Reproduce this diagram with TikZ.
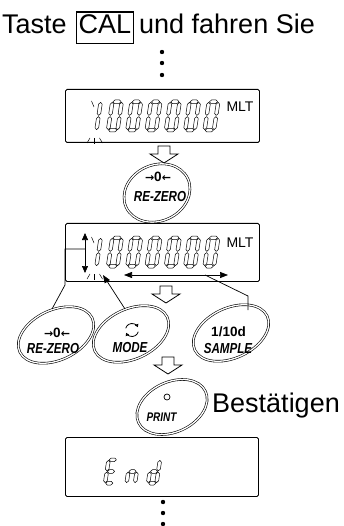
\documentclass[tikz,border=0pt]{standalone}
\usepackage{fontspec}
\setmainfont{Liberation Sans}
\newfontfamily\btnfont[FakeStretch=0.8]{Liberation Sans}
\newfontfamily\arrfont{DejaVu Sans}
\usetikzlibrary{arrows.meta,shapes.geometric}

\tikzset{
  lcd/.style={draw, line width=0.9pt, rounded corners=1.5pt},
  seg/.style={draw, line width=0.5pt, fill=white, line join=round},
  btn/.style={ellipse, draw, line width=0.6pt, double, double distance=1.3pt, inner sep=0pt, rotate=25},
  hollow/.style={draw, line width=0.8pt, fill=white, line join=miter},
  leader/.style={draw, line width=0.7pt},
  tipA/.style={-{Triangle[length=8pt,width=6pt]}},
  tipB/.style={{Triangle[length=8pt,width=6pt]}-{Triangle[length=8pt,width=6pt]}},
  big/.style={inner sep=0pt, font=\fontsize{27}{30}\selectfont},
  blab/.style={inner sep=0pt, anchor=base, font=\btnfont\bfseries\itshape\fontsize{14.5}{15}\selectfont},
  bnum/.style={inner sep=0pt, anchor=base, font=\bfseries\fontsize{13.5}{15}\selectfont},
  dots/.style={fill=black},
}

% seven-segment helpers (local coords, y up, in pt); \sh = half segment thickness
\def\dw{13}\def\dh{32}\def\sh{1.8}
\newcommand\segH[3]{\draw[seg] (#1,#3) -- ++(\sh,\sh) -- ({#2-\sh},{#3+\sh}) -- (#2,#3) -- ({#2-\sh},{#3-\sh}) -- ({#1+\sh},{#3-\sh}) -- cycle;}
\newcommand\segV[3]{\draw[seg] (#1,#2) -- ++(\sh,\sh) -- ({#1+\sh},{#3-\sh}) -- (#1,#3) -- ({#1-\sh},{#3-\sh}) -- ({#1-\sh},{#2+\sh}) -- cycle;}
\newcommand\segA{\segH{\sh+0.6}{\dw-\sh-0.6}{\dh-\sh}}
\newcommand\segG{\segH{\sh+0.6}{\dw-\sh-0.6}{\dh/2}}
\newcommand\segD{\segH{\sh+0.6}{\dw-\sh-0.6}{\sh}}
\newcommand\segF{\segV{\sh}{\dh/2+0.6}{\dh-\sh-0.6}}
\newcommand\segE{\segV{\sh}{\sh+0.6}{\dh/2-0.6}}
\newcommand\segB{\segV{\dw-\sh}{\dh/2+0.6}{\dh-\sh-0.6}}
\newcommand\segC{\segV{\dw-\sh}{\sh+0.6}{\dh/2-0.6}}
\newcommand\lcdchar[3]{\begin{scope}[shift={(#1,#2)},x=1pt,y=1pt,xslant=0.15] #3 \end{scope}}
\newcommand\lcdzero{\segA\segB\segC\segD\segE\segF}
\newcommand\lcdone{\segB\segC}
\newcommand\lcdrow[1]{%
  \lcdchar{85}{#1}{\lcdone}%
  \foreach \k in {0,...,5}{\lcdchar{106+19.3*\k}{#1}{\lcdzero}}%
  \draw[line width=0.5pt] (91.5,#1-31) -- (94,#1-25);
  \draw[line width=0.5pt] (87,#1+11) -- (90,#1+6);
  \draw[line width=0.5pt] (94,#1+6) -- (94,#1+12);
  \draw[line width=0.5pt] (99.5,#1+6) -- (102.5,#1+11);
}
\newcommand\hollowarrow[1]{\draw[hollow] ([xshift=-6pt]#1) -- ([xshift=6pt]#1) -- ([xshift=6pt,yshift=-8pt]#1) -- ([xshift=14pt,yshift=-8pt]#1) -- ([yshift=-17pt]#1) -- ([xshift=-14pt,yshift=-8pt]#1) -- ([xshift=-6pt,yshift=-8pt]#1) -- cycle;}
\newcommand\zarr{{\arrfont\bfseries\fontsize{11}{11}\selectfont →}0{\arrfont\bfseries\fontsize{11}{11}\selectfont ←}}

\begin{document}
\begin{tikzpicture}[x=1pt,y=-1pt]
\useasboundingbox (0,0) rectangle (344,526);

% title
\node[big, anchor=base west] (t1) at (2,34) {Taste};
\node[big, anchor=base west, draw, line width=1.1pt, inner xsep=2pt, text height=22pt, text depth=9.5pt] (cal) at (76,34) {CAL};
\node[big, anchor=base west] (t2) at (139,34) {und fahren Sie};

% dots top
\foreach \yy in {52,63,75} {\fill[dots] (162,\yy) circle[radius=2.2pt];}

% display 1
\node[lcd, minimum width=194pt, minimum height=53pt, anchor=north west] (d1) at (65,89) {};
\lcdrow{132}
\node[inner sep=0pt, font=\fontsize{14}{14}\selectfont] (mlt1) at (240,107) {MLT};

% arrow 1
\coordinate (a1) at (164,146);
\hollowarrow{a1}

% RE-ZERO top
\node[btn, minimum width=68pt, minimum height=56pt] (bz0) at (157,193) {};
\node[bnum] (bz0a) at (158,182) {\zarr};
\node[blab] (bz0b) at (160,202) {RE-ZERO};

% display 2
\node[lcd, minimum width=194pt, minimum height=58pt, anchor=north west] (d2) at (65,223) {};
\lcdrow{268}
\node[inner sep=0pt, font=\fontsize{14}{14}\selectfont] (mlt2) at (240,243) {MLT};

\coordinate (ud1) at (85,233);
\coordinate (ud2) at (85,273);
\draw[leader, {Triangle[length=7pt,width=6pt]}-{Triangle[length=7pt,width=6pt]}] (ud1) -- (ud2);
\coordinate (ha1) at (124,275);
\coordinate (ha2) at (228,275);
\draw[leader, tipB] (ha1) -- (ha2);

% arrow 2
\coordinate (a2) at (166,286);
\hollowarrow{a2}

% lower buttons
\node[btn, minimum width=80pt, minimum height=50pt] (bz1) at (56,335) {};
\node[bnum] (bz1a) at (57,337) {\zarr};
\node[blab] (bz1b) at (53,353) {RE-ZERO};

\node[btn, minimum width=80pt, minimum height=50pt] (bm) at (131,334) {};
\coordinate (mc) at (132,330);
\draw[line width=0.8pt, -{Triangle[length=3pt,width=3.5pt]}] ([shift={(165:6.5pt)}]mc) arc[start angle=165, end angle=25, radius=6.5pt];
\draw[line width=0.8pt, -{Triangle[length=3pt,width=3.5pt]}] ([shift={(-15:6.5pt)}]mc) arc[start angle=-15, end angle=-155, radius=6.5pt];
\node[blab] (bmb) at (130,352) {MODE};

\node[btn, minimum width=80pt, minimum height=50pt] (bs) at (231,333) {};
\node[bnum] (bsa) at (228.5,336) {1/10d};
\node[blab] (bsb) at (228,353) {SAMPLE};

% leaders
\coordinate (rz1) at (85,249);
\coordinate (rz2) at (65,249);
\coordinate (rz3) at (65,285);
\coordinate (rz4) at (52,309);
\draw[leader] (rz1) -- (rz2) -- (rz3) -- (rz4);
\coordinate (ml1) at (125,309);
\coordinate (ml2) at (103,275);
\draw[leader, tipA] (ml1) -- (ml2);
\coordinate (sl1) at (205,275);
\coordinate (sl2) at (248,296);
\coordinate (sl3) at (248,310);
\draw[leader] (sl1) -- (sl2) -- (sl3);

% arrow 3
\coordinate (a3) at (168,357);
\hollowarrow{a3}

% PRINT
\node[btn, minimum width=74pt, minimum height=50pt] (bp) at (172,407) {};
\coordinate (pc) at (167,397);
\draw[line width=0.7pt] (pc) circle[radius=3pt];
\node[blab, font=\btnfont\bfseries\itshape\fontsize{12.5}{13}\selectfont] (bpb) at (161.5,421) {PRINT};
\node[big, anchor=base west] (best) at (212,412) {Bestätigen};

% display 3
\node[lcd, minimum width=193pt, minimum height=59pt, anchor=north west] (d3) at (65,437) {};
\def\dw{12}\def\dh{27}
\lcdchar{103}{485}{\segA\segD\segE\segF\segG}
\lcdchar{124.5}{485}{\segC\segE\segG}
\lcdchar{146}{485}{\segB\segC\segD\segE\segG}

% dots bottom
\foreach \yy in {502,513,524} {\fill[dots] (163,\yy) circle[radius=2.2pt];}
\end{tikzpicture}
\end{document}
